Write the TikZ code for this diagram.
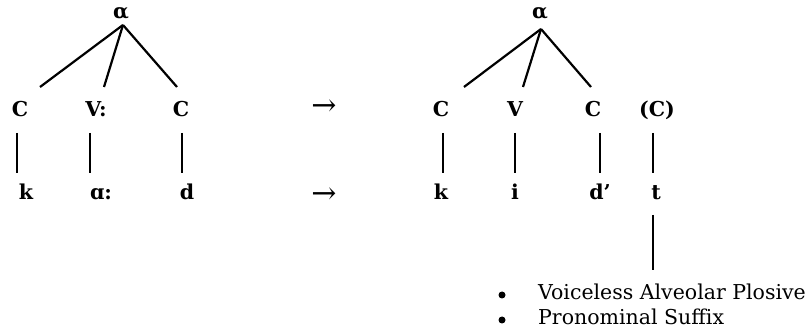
\documentclass[tikz,border=0pt]{standalone}
\usepackage{fontspec}
\setmainfont{DejaVu Serif}
\usetikzlibrary{positioning,calc}
\tikzset{seg/.style={font=\bfseries\fontsize{20.5}{24}\selectfont,anchor=base,inner sep=0pt}}
\tikzset{branch/.style={line width=2.2pt}}
\tikzset{becomes/.style={font=\fontsize{30}{34}\selectfont,inner sep=0pt}}
\tikzset{gloss/.style={font=\fontsize{20.5}{24}\selectfont,anchor=base west,inner sep=0pt}}

\begin{document}
\begin{tikzpicture}[x=1pt,y=-1pt]
\useasboundingbox (0,0) rectangle (807,331);
% underlying form
\node[seg] (alphaL) at (121,19) {α};
\node[seg] (c1) at (20,117) {C};
\node[seg] (v1) at (96,117) {V:};
\node[seg] (c2) at (181,117) {C};
\node[seg] (k1) at (26,200) {k};
\node[seg] (a1) at (101,200) {ɑ:};
\node[seg] (d1) at (187,200) {d};
\draw[branch] ($(alphaL.base)+(2,6)$) -- ($(c1.base)+(20,-30)$);
\draw[branch] ($(alphaL.base)+(2,6)$) -- ($(v1.base)+(8,-30)$);
\draw[branch] ($(alphaL.base)+(2,6)$) -- ($(c2.base)+(-4,-30)$);
\draw[branch] ($(c1.base)+(-3,16)$) -- ($(k1.base)+(-9,-27)$);
\draw[branch] ($(v1.base)+(-6,16)$) -- ($(a1.base)+(-11,-27)$);
\draw[branch] ($(c2.base)+(1,16)$) -- ($(d1.base)+(-5,-27)$);
% arrows
\node[becomes] (toA) at (324,108) {→};
\node[becomes] (toB) at (324,196) {→};
% surface form
\node[seg] (alphaR) at (540,19) {α};
\node[seg] (c3) at (441,117) {C};
\node[seg] (v2) at (515,117) {V};
\node[seg] (c4) at (593,117) {C};
\node[seg] (c5) at (657,117) {(C)};
\node[seg] (k2) at (441,200) {k};
\node[seg] (i2) at (515,200) {i};
\node[seg] (d2) at (600,200) {d’};
\node[seg] (t2) at (656,200) {t};
\draw[branch] ($(alphaR.base)+(1,10)$) -- ($(c3.base)+(23,-30)$);
\draw[branch] ($(alphaR.base)+(1,10)$) -- ($(v2.base)+(8,-30)$);
\draw[branch] ($(alphaR.base)+(1,10)$) -- ($(c4.base)+(-2,-30)$);
\draw[branch] ($(c3.base)+(2,16)$) -- ($(k2.base)+(2,-27)$);
\draw[branch] ($(v2.base)+(0,16)$) -- ($(i2.base)+(0,-27)$);
\draw[branch] ($(c4.base)+(7,16)$) -- ($(d2.base)+(0,-27)$);
\draw[branch] ($(c5.base)+(-4,16)$) -- ($(t2.base)+(-3,-27)$);
\coordinate (tend) at (653,270);
\draw[branch] ($(t2.base)+(-3,15)$) -- (tend);
% features of t
\node[gloss] (g1) at (538,300) {Voiceless Alveolar Plosive};
\node[gloss] (g2) at (538,325) {Pronominal Suffix};
\fill (502,295) circle (3.5pt);
\fill (502,320) circle (3.5pt);
\end{tikzpicture}
\end{document}
